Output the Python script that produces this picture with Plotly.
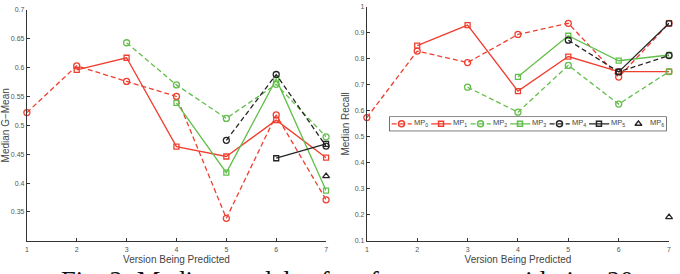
import plotly.graph_objects as go

versions = [1, 2, 3, 4, 5, 6, 7]
series_names = ["MP<sub>0</sub>", "MP<sub>1</sub>", "MP<sub>2</sub>", "MP<sub>3</sub>",
                "MP<sub>4</sub>", "MP<sub>5</sub>", "MP<sub>6</sub>"]

gmean_mp0 = [0.522, 0.603, 0.576, 0.550, 0.339, 0.518, 0.371]
gmean_mp1 = [None, 0.596, 0.617, 0.463, 0.446, 0.509, 0.444]
gmean_mp2 = [None, None, 0.643, 0.570, 0.512, 0.571, 0.480]
gmean_mp3 = [None, None, None, 0.539, 0.418, 0.580, 0.387]
gmean_mp4 = [None, None, None, None, 0.474, 0.588, 0.464]
gmean_mp5 = [None, None, None, None, None, 0.443, 0.468]
gmean_mp6 = [None, None, None, None, None, None, 0.412]

recall_mp0 = [0.574, 0.830, 0.786, 0.894, 0.937, 0.730, 0.937]
recall_mp1 = [None, 0.851, 0.930, 0.676, 0.809, 0.751, 0.751]
recall_mp2 = [None, None, 0.691, 0.595, 0.775, 0.626, 0.751]
recall_mp3 = [None, None, None, 0.731, 0.889, 0.793, 0.815]
recall_mp4 = [None, None, None, None, 0.872, 0.750, 0.813]
recall_mp5 = [None, None, None, None, None, 0.750, 0.937]
recall_mp6 = [None, None, None, None, None, None, 0.191]

gmean_ticks = [0.35, 0.4, 0.45, 0.5, 0.55, 0.6, 0.65, 0.7]
recall_ticks = [0.1, 0.2, 0.3, 0.4, 0.5, 0.6, 0.7, 0.8, 0.9, 1.0]

RED = "#ef3f30"
GREEN = "#63be4c"
BLACK = "#252525"
styles = [
    dict(color=RED, dash="5px,3px", symbol="circle-open", mode="lines+markers"),
    dict(color=RED, dash="solid", symbol="square-open", mode="lines+markers"),
    dict(color=GREEN, dash="5px,3px", symbol="circle-open", mode="lines+markers"),
    dict(color=GREEN, dash="solid", symbol="square-open", mode="lines+markers"),
    dict(color=BLACK, dash="5px,3px", symbol="circle-open", mode="lines+markers"),
    dict(color=BLACK, dash="solid", symbol="square-open", mode="lines+markers"),
    dict(color=BLACK, dash="solid", symbol="triangle-up-open", mode="markers"),
]

gmean_series = [gmean_mp0, gmean_mp1, gmean_mp2, gmean_mp3, gmean_mp4, gmean_mp5, gmean_mp6]
recall_series = [recall_mp0, recall_mp1, recall_mp2, recall_mp3, recall_mp4, recall_mp5, recall_mp6]

fig = go.Figure()

def add_series(vals, st, name, xa, ya):
    fig.add_trace(go.Scatter(
        x=versions, y=vals, mode=st["mode"], name=name, showlegend=False,
        connectgaps=False, cliponaxis=False,
        line=dict(color=st["color"], width=1.3, dash=st["dash"]),
        marker=dict(symbol=st["symbol"], size=6 if st["symbol"] != "square-open" else 5,
                    color=st["color"], line=dict(width=1.3, color=st["color"])),
        xaxis=xa, yaxis=ya,
    ))

for vals, st, nm in zip(gmean_series, styles, series_names):
    add_series(vals, st, nm, "x", "y")
for vals, st, nm in zip(recall_series, styles, series_names):
    add_series(vals, st, nm, "x2", "y2")

# legend keys drawn on an overlay axis spanning the legend box
annotations = []
for i, (st, nm) in enumerate(zip(styles, series_names)):
    if st["mode"] == "lines+markers":
        fig.add_trace(go.Scatter(
            x=[i + 0.05, i + 0.56], y=[0, 0], mode="lines", showlegend=False,
            line=dict(color=st["color"], width=1.3, dash=st["dash"]),
            xaxis="x3", yaxis="y3", hoverinfo="skip", cliponaxis=False))
    fig.add_trace(go.Scatter(
        x=[i + 0.30], y=[0], mode="markers", showlegend=False,
        marker=dict(symbol=st["symbol"], size=6 if st["symbol"] != "square-open" else 5,
                    color=st["color"], line=dict(width=1.5, color=st["color"])),
        xaxis="x3", yaxis="y3", hoverinfo="skip", cliponaxis=False))
    annotations.append(dict(x=i + 0.58, y=0.1, xref="x3", yref="y3", text=nm,
                            showarrow=False, xanchor="left", yanchor="middle",
                            borderpad=0,
                            font=dict(size=7.5, color="#444", family="Liberation Sans")))

annotations.append(dict(
    x=57 / 680, y=1 - 266.5 / 274, xref="paper", yref="paper", xanchor="left", yanchor="top",
    text="Fig. 2: Median models of performance considering 20 repetitions", showarrow=False,
    font=dict(size=26.5, color="#111", family="Liberation Serif")))

axis_common = dict(showline=True, linecolor="#333", linewidth=1, ticks="inside", ticklen=3,
                   tickcolor="#333", showgrid=False, zeroline=False,
                   tickfont=dict(size=7, color="#555", family="Liberation Sans"))
title_font = dict(size=10, color="#444", family="Liberation Sans")

fig.update_layout(
    width=680, height=274, margin=dict(l=0, r=0, t=0, b=0),
    paper_bgcolor="white", plot_bgcolor="white", showlegend=False,
    xaxis=dict(domain=[25 / 680, 326 / 680], range=[1, 7], tickvals=versions, ticklabelstandoff=2,
               title=dict(text="Version Being Predicted", font=title_font, standoff=3), **axis_common),
    yaxis=dict(domain=[1 - 243 / 274, 1 - 6 / 274], range=[0.3, 0.7], tickvals=gmean_ticks,
               ticktext=[f"{t:g}" for t in gmean_ticks],
               title=dict(text="Median G\u2212Mean", font=title_font, standoff=3), **axis_common),
    xaxis2=dict(domain=[367 / 680, 671 / 680], range=[1, 7], tickvals=versions, anchor="y2",
                ticklabelstandoff=2,
                title=dict(text="Version Being Predicted", font=title_font, standoff=3), **axis_common),
    yaxis2=dict(domain=[1 - 243 / 274, 1 - 3 / 274], range=[0.1, 1.0], tickvals=recall_ticks,
                ticktext=[f"{t:g}" for t in recall_ticks], anchor="x2",
                title=dict(text="Median Recall", font=title_font, standoff=3), **axis_common),
    xaxis3=dict(domain=[390 / 680, 668 / 680], range=[0, 7], visible=False, anchor="y3"),
    yaxis3=dict(domain=[1 - 130 / 274, 1 - 116 / 274], range=[-1, 1], visible=False, anchor="x3"),
    annotations=annotations,
    shapes=[dict(type="rect", xref="paper", yref="paper", x0=390 / 680, x1=668 / 680,
                 y0=1 - 130 / 274, y1=1 - 116 / 274, line=dict(color="#222", width=1.2),
                 fillcolor="white", layer="below")],
)

fig.write_html("out.html")
